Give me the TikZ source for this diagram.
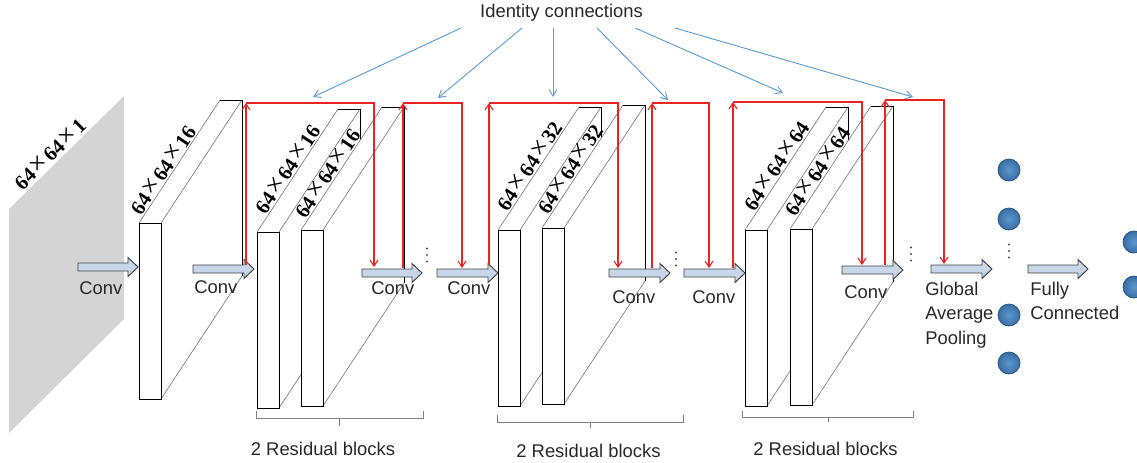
\documentclass[tikz,border=0pt]{standalone}
\usepackage{fontspec}
\setmainfont{Liberation Sans}
\newfontfamily\lserif{Liberation Serif}
\usetikzlibrary{arrows.meta,calc}

\definecolor{redc}{RGB}{235,35,35}
\definecolor{bluec}{RGB}{91,155,213}
\definecolor{arrfill}{RGB}{200,214,234}
\definecolor{arrdraw}{RGB}{64,64,64}
\definecolor{planegray}{RGB}{212,212,212}
\definecolor{neuronin}{RGB}{95,150,205}
\definecolor{neuronout}{RGB}{55,110,165}
\definecolor{neurondraw}{RGB}{45,85,130}
\definecolor{txt}{RGB}{40,40,40}

\newcommand\tms{\makebox[0.95em]{\mdseries\fontsize{21}{21}\selectfont ×}}

\tikzset{
  thinedge/.style={draw=black!60, line width=0.4pt},
  boxedge/.style={draw=black, line width=0.75pt},
  blocklabel/.style={sloped, above, inner sep=1pt, text=black,
    font=\lserif\bfseries\fontsize{15.5}{16}\selectfont},
  blockarrow/.style={fill=arrfill, draw=arrdraw, line width=0.7pt, line join=miter},
  redline/.style={draw=redc, line width=0.8pt},
  redtip/.style={-{Straight Barb[length=4.5pt,width=6pt]}},
  blueline/.style={draw=bluec, line width=0.7pt, -{Straight Barb[length=5pt,width=6pt]}},
  lbl/.style={font=\fontsize{13.8}{16}\selectfont, text=txt, inner sep=0pt, anchor=base west},
  neuron/.style={circle, minimum size=16.5pt, inner sep=0pt, draw=neurondraw, line width=0.6pt,
    shading=radial, inner color=neuronin, outer color=neuronout},
  bracestyle/.style={draw=black!50, line width=0.6pt},
  dotstyle/.style={fill=black!70, draw=none},
}

% #1 name, #2 x, #3 ytop, #4 label, #5 label position
\newcommand\drawblock[5]{%
  \coordinate (#1) at (#2,#3);
  \fill[white] (#1) -- ++(81,-123) -- ++(22,0) -- ++(0,176) -- ++(-81,123) -- ++(-22,0) -- cycle;
  \draw[thinedge] (#1) -- node[blocklabel, pos=#5] {#4} ++(81,-123);
  \draw[thinedge] ($(#1)+(22,0)$) -- ++(81,-123);
  \draw[thinedge] ($(#1)+(22,176)$) -- ++(81,-123);
  \draw[boxedge] ($(#1)+(81,-123)$) -- ++(22,0) -- ++(0,176);
  \draw[boxedge] (#1) rectangle ++(22,176);
}

% #1 name, #2 x start, #3 x tip, #4 y centre
\newcommand\blockarrow[4]{%
  \draw[blockarrow] (#2,#4-4) -- (#3-10,#4-4) -- (#3-10,#4-9.5) -- (#3,#4)
     -- (#3-10,#4+9.5) -- (#3-10,#4+4) -- (#2,#4+4) -- cycle;
  \coordinate (#1) at (#3,#4);
}

\newcommand\vdotsat[2]{%
  \fill[dotstyle] (#1,#2-6.5) circle (1.1);
  \fill[dotstyle] (#1,#2) circle (1.1);
  \fill[dotstyle] (#1,#2+6.5) circle (1.1);
}

\begin{document}
\begin{tikzpicture}[x=0.75pt,y=-0.75pt]
\useasboundingbox (0,0) rectangle (1137,462);

% input plane
\fill[planegray] (9,209) coordinate (p1) -- (124,96) coordinate (p2) -- (124,319) -- (9,433) -- cycle;
\path (p1) -- node[blocklabel, pos=0.42, inner sep=2pt] {64\tms64\tms1} (p2);

% blocks
\drawblock{b1}{139}{223}{64\tms64\tms16}{0.39}
\drawblock{b2}{257}{232}{64\tms64\tms16}{0.47}
\drawblock{b3}{301}{230}{64\tms64\tms16}{0.42}
\drawblock{b4}{498}{230}{64\tms64\tms32}{0.48}
\drawblock{b5}{542}{228}{64\tms64\tms32}{0.44}
\drawblock{b6}{745}{230}{64\tms64\tms64}{0.48}
\drawblock{b7}{790}{229}{64\tms64\tms64}{0.43}

% block arrows
\blockarrow{a1}{78}{138}{267}
\blockarrow{a2}{193}{254}{269}
\blockarrow{a3}{362}{422}{273}
\blockarrow{a4}{437}{498}{273}
\blockarrow{a5}{609}{670}{273}
\blockarrow{a6}{684}{745}{273}
\blockarrow{a7}{842}{903}{270}
\blockarrow{a8}{931}{992}{269}
\blockarrow{a9}{1028}{1088}{269}

% labels under arrows
\node[lbl] (t1) at (79,294) {Conv};
\node[lbl] (t2) at (194,293) {Conv};
\node[lbl] (t3) at (371,294) {Conv};
\node[lbl] (t4) at (447,294) {Conv};
\node[lbl] (t5) at (612,303) {Conv};
\node[lbl] (t6) at (692,303) {Conv};
\node[lbl] (t7) at (844,298) {Conv};
\node[lbl] (g1) at (925,295) {Global};
\node[lbl] (g2) at (925,319.5) {Average};
\node[lbl] (g3) at (925,344) {Pooling};
\node[lbl] (f1) at (1030,295) {Fully};
\node[lbl] (f2) at (1030,319) {Connected};

% vertical dots
\vdotsat{427}{255}
\vdotsat{676}{259}
\vdotsat{911}{254}
\vdotsat{1009}{251}

% neurons
\node[neuron] (n1) at (1009,170) {};
\node[neuron] (n2) at (1009,219) {};
\node[neuron] (n3) at (1009,315) {};
\node[neuron] (n4) at (1009,363) {};
\node[neuron] (m1) at (1134,242) {};
\node[neuron] (m2) at (1134,287) {};

% red identity connections
\coordinate (r1s) at (246,265); \coordinate (r1t) at (246,103); \coordinate (r1e) at (374,267);
\coordinate (r2s) at (403,268); \coordinate (r2t) at (403,103); \coordinate (r2e) at (462,268);
\coordinate (r3s) at (489,265); \coordinate (r3t) at (489,103); \coordinate (r3e) at (618,268);
\coordinate (r4s) at (652,268); \coordinate (r4t) at (652,103); \coordinate (r4e) at (709,268);
\coordinate (r5s) at (733,268); \coordinate (r5t) at (733,102); \coordinate (r5e) at (862,265);
\coordinate (r6s) at (885,265); \coordinate (r6t) at (885,100); \coordinate (r6e) at (944,264);
\foreach \i in {1,...,6}{
  \draw[redline, redtip] (r\i s) -- (r\i t);
  \draw[redline, redtip] (r\i t) -| (r\i e);
}

% identity connections label and blue arrows
\node[font=\fontsize{13.8}{16}\selectfont, text=txt, inner sep=0pt, anchor=base] (idc) at (561.5,17.5) {Identity connections};
\coordinate (s1) at (461,28); \coordinate (e1) at (313,97);
\coordinate (s2) at (522,28); \coordinate (e2) at (438,98);
\coordinate (s3) at (553,28); \coordinate (e3) at (553,97);
\coordinate (s4) at (597,28); \coordinate (e4) at (668,100);
\coordinate (s5) at (635,28); \coordinate (e5) at (783,93);
\coordinate (s6) at (675,28); \coordinate (e6) at (913,97);
\foreach \i in {1,...,6}{ \draw[blueline] (s\i) -- (e\i); }

% braces
\draw[bracestyle] (256,411) -- (256,418) -- (423,418) -- (423,411);
\draw[bracestyle] (339,418) -- (339,426);
\draw[bracestyle] (497,415) -- (497,422) -- (683,422) -- (683,415);
\draw[bracestyle] (590,422) -- (590,428);
\draw[bracestyle] (742,411) -- (742,417) -- (913,417) -- (913,411);
\draw[bracestyle] (828,417) -- (828,422);

\node[lbl, anchor=base] (rb1) at (323,455) {2 Residual blocks};
\node[lbl, anchor=base] (rb2) at (588.5,457) {2 Residual blocks};
\node[lbl, anchor=base] (rb3) at (825.5,455) {2 Residual blocks};

\end{tikzpicture}
\end{document}
